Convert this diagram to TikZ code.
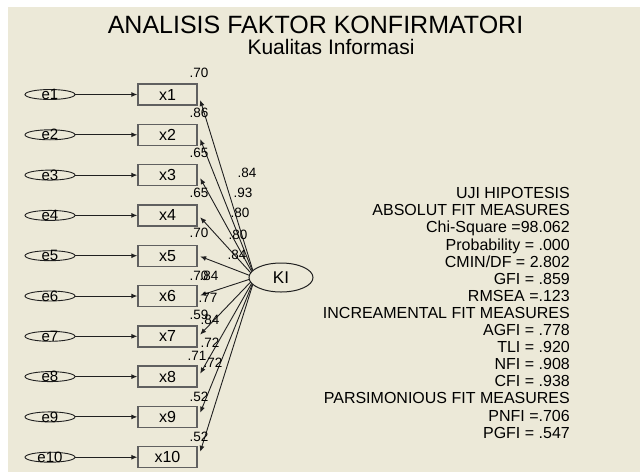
\documentclass[tikz,border=0pt]{standalone}
\usepackage{fontspec}
\setmainfont{Liberation Sans}
\usetikzlibrary{arrows.meta,calc,shapes.geometric}
\pgfdeclarelayer{back}
\pgfdeclarelayer{edges}
\pgfsetlayers{back,edges,main}
\definecolor{bgc}{HTML}{ECE9D8}
\definecolor{linec}{HTML}{202020}
\definecolor{boxc}{HTML}{606060}
\begin{document}
\begin{tikzpicture}[x=1pt,y=-1pt,
  err/.style={ellipse,draw=linec,line width=0.9pt,minimum width=50pt,minimum height=10pt,inner sep=0pt},
  elab/.style={font=\fontsize{15}{15}\selectfont,inner sep=0pt,text=black},
  obs/.style={rectangle,draw=boxc,line width=1.4pt,minimum width=59pt,minimum height=21pt,inner sep=0pt,font=\fontsize{16}{16}\selectfont},
  lat/.style={ellipse,draw=linec,line width=1pt,fill=bgc,minimum width=64pt,minimum height=29pt,inner sep=0pt,font=\fontsize{17}{17}\selectfont},
  num/.style={font=\fontsize{13.5}{13.5}\selectfont,inner sep=0pt},
  fitline/.style={font=\fontsize{16}{16}\selectfont,inner sep=0pt,anchor=base east},
  arr/.style={-{Latex[length=6pt,width=5pt]},line width=0.9pt,draw=linec},
]
\begin{pgfonlayer}{back}
\fill[white] (0,0) rectangle (640,472);
\fill[bgc] (8,7) rectangle (640,472);
\end{pgfonlayer}
\useasboundingbox (0,0) rectangle (640,472);

\node[font=\fontsize{25}{25}\selectfont,inner sep=0pt] (title) at (315.5,25) {ANALISIS FAKTOR KONFIRMATORI};
\node[font=\fontsize{21}{21}\selectfont,inner sep=0pt] (subtitle) at (331,47) {Kualitas Informasi};

\foreach \i in {1,...,10} {
  \pgfmathsetmacro\yy{94.5+40.3*(\i-1)}
  \node[err,label={[elab]center:e\i}] (e\i) at (50,\yy) {};
  \node[obs] (x\i) at (167.5,\yy) {x\i};
  \draw[arr] (e\i) -- (x\i);
}

\node[lat] (KI) at (281,277.5) {KI};
\coordinate (KIp) at (255,277.5);

\begin{pgfonlayer}{edges}
\foreach \i in {1,...,10} {
  \draw[arr] (KIp) -- ($(x\i.east)!0.03!(KI.center)$);
}
\end{pgfonlayer}

\foreach \v/\px/\py [count=\k] in {.70/199/73,.86/199/113,.65/199/153,.65/199/193,.70/199/233,.70/199/276,.59/199/315,.71/197/356,.52/199/397,.52/199/437} {
  \node[num] (rsq\k) at (\px,\py) {\v};
}
\foreach \v/\px/\py [count=\k] in {.84/247/173,.93/243/193,.80/240/213,.80/238/235,.84/237/255,.84/209/276,.77/208/298,.84/210/320,.72/210/343,.72/213/363} {
  \node[num] (ld\k) at (\px,\py) {\v};
}

\foreach \t [count=\k] in {UJI HIPOTESIS,ABSOLUT FIT MEASURES,Chi-Square =98.062,Probability = .000,CMIN/DF = 2.802,GFI = .859,RMSEA =.123,INCREAMENTAL FIT MEASURES,AGFI = .778,TLI = .920,NFI = .908,CFI = .938,PARSIMONIOUS FIT MEASURES,PNFI =.706,PGFI = .547} {
  \pgfmathsetmacro\yb{198.7+17.1*(\k-1)}
  \node[fitline] (fit\k) at (570,\yb) {\t};
}
\end{tikzpicture}
\end{document}
